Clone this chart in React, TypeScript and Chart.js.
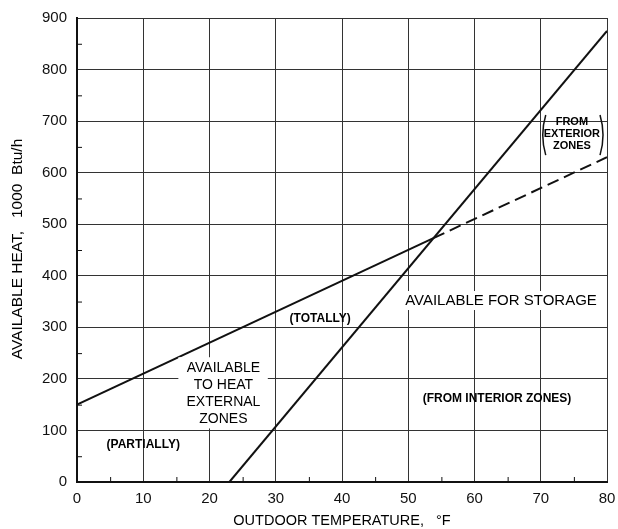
import React, { useEffect, useRef } from "react";
import { Chart, registerables } from "chart.js";

Chart.register(...registerables);

// Data
const xTicks = [0, 10, 20, 30, 40, 50, 60, 70, 80];
const yTicks = [0, 100, 200, 300, 400, 500, 600, 700, 800, 900];
const totalTemp = [0, 53.8];
const totalHeat = [150, 473];
const extTemp = [53.8, 80];
const extHeat = [473, 630];
const interiorTemp = [23, 80];
const interiorHeat = [0, 875];

const FONT = "'Liberation Sans', Arial, Helvetica, sans-serif";

const toPts = (xs: number[], ys: number[]) => xs.map((x, i) => ({ x, y: ys[i] }));

const annotationPlugin = {
  id: "annots",
  afterDatasetsDraw(chart: any) {
    const { ctx, scales, chartArea } = chart;
    const xs = scales.x;
    const ys = scales.y;
    const px = (v: number) => xs.getPixelForValue(v);
    const py = (v: number) => ys.getPixelForValue(v);
    ctx.save();

    // minor ticks
    ctx.strokeStyle = "#111";
    ctx.lineWidth = 1;
    for (let t = 5; t < 80; t += 10) {
      ctx.beginPath();
      ctx.moveTo(px(t) + 0.5, chartArea.bottom);
      ctx.lineTo(px(t) + 0.5, chartArea.bottom - 5);
      ctx.stroke();
    }
    for (let t = 50; t < 900; t += 100) {
      ctx.beginPath();
      ctx.moveTo(chartArea.left, py(t) + 0.5);
      ctx.lineTo(chartArea.left + 5, py(t) + 0.5);
      ctx.stroke();
    }

    const text = (s: string, x: number, y: number, size: number, bold = false, bg = false) => {
      ctx.font = `${bold ? "bold " : ""}${size}px ${FONT}`;
      ctx.textAlign = "center";
      ctx.textBaseline = "middle";
      if (bg) {
        const w = ctx.measureText(s).width;
        ctx.fillStyle = "#fff";
        ctx.fillRect(px(x) - w / 2 - 3, py(y) - size / 2 - 2, w + 6, size + 4);
      }
      ctx.fillStyle = "#000";
      ctx.fillText(s, px(x), py(y));
    };

    // white blocks
    ctx.fillStyle = "#fff";
    ctx.fillRect(px(15.3), py(242), px(28.8) - px(15.3), py(100) - py(242) - 2);

    text("AVAILABLE", 22.1, 221, 14);
    text("TO HEAT", 22.1, 188, 14);
    text("EXTERNAL", 22.1, 155, 14);
    text("ZONES", 22.1, 122, 14);

    text("AVAILABLE FOR STORAGE", 64, 352, 15, false, true);
    text("(TOTALLY)", 36.7, 317, 12, true);
    text("(PARTIALLY)", 10, 72, 12, true);
    text("(FROM INTERIOR ZONES)", 63.4, 162, 12, true);

    text("FROM", 74.7, 699, 11, true);
    text("EXTERIOR", 74.7, 675, 11, true);
    text("ZONES", 74.7, 652, 11, true);

    // tall parentheses
    ctx.strokeStyle = "#111";
    ctx.lineWidth = 1.5;
    const top = py(712), bot = py(634), mid = (top + bot) / 2;
    const lx = px(70.3), rx = px(79.4);
    ctx.beginPath();
    ctx.moveTo(lx + 3, top);
    ctx.quadraticCurveTo(lx - 3, mid, lx + 3, bot);
    ctx.stroke();
    ctx.beginPath();
    ctx.moveTo(rx - 3, top);
    ctx.quadraticCurveTo(rx + 3, mid, rx - 3, bot);
    ctx.stroke();

    // axis titles
    ctx.fillStyle = "#000";
    ctx.font = `14.5px ${FONT}`;
    ctx.textAlign = "center";
    ctx.textBaseline = "middle";
    ctx.fillText("OUTDOOR TEMPERATURE,   \u00B0F", 342, 521);
    ctx.font = `15.5px ${FONT}`;
    ctx.translate(18, 249);
    ctx.rotate(-Math.PI / 2);
    ctx.fillText("AVAILABLE HEAT,   1000  Btu/h", 0, 0);
    ctx.restore();
  },
};

export default function App() {
  const ref = useRef<HTMLCanvasElement>(null);
  useEffect(() => {
    document.body.style.margin = "0";
    const ctx = ref.current!.getContext("2d")!;
    const line = { borderColor: "#111", borderWidth: 2, pointRadius: 0, showLine: true, fill: false, tension: 0 };
    const chart = new Chart(ctx, {
      type: "scatter",
      data: {
        datasets: [
          { ...line, data: toPts(totalTemp, totalHeat) },
          { ...line, data: toPts(extTemp, extHeat), borderDash: [12, 6] },
          { ...line, data: toPts(interiorTemp, interiorHeat) },
        ],
      },
      options: {
        animation: false,
        responsive: false,
        layout: { padding: { left: 0, right: 11, top: 18, bottom: 0 } },
        plugins: { legend: { display: false }, tooltip: { enabled: false } },
        scales: {
          x: {
            type: "linear",
            min: xTicks[0],
            max: xTicks[xTicks.length - 1],
            afterBuildTicks: (s: any) => { s.ticks = xTicks.map((v) => ({ value: v })); },
            afterFit: (s: any) => { s.height = 47; s.paddingLeft = 0; s.paddingRight = 0; },
            grid: { color: "#333", lineWidth: 1, drawTicks: false },
            border: { color: "#111", width: 2 },
            ticks: { color: "#111", font: { size: 15, family: FONT }, padding: 8 },
          },
          y: {
            type: "linear",
            min: yTicks[0],
            max: yTicks[yTicks.length - 1],
            afterBuildTicks: (s: any) => { s.ticks = yTicks.map((v) => ({ value: v })); },
            afterFit: (s: any) => { s.width = 77; s.paddingTop = 0; s.paddingBottom = 0; },
            grid: { color: "#333", lineWidth: 1, drawTicks: false },
            border: { color: "#111", width: 2 },
            ticks: { color: "#111", font: { size: 15, family: FONT }, padding: 10 },
          },
        },
      },
      plugins: [annotationPlugin],
    });
    return () => chart.destroy();
  }, []);
  return (
    <div style={{ width: 618, height: 529 }}>
      <canvas ref={ref} width={618} height={529} />
    </div>
  );
}
